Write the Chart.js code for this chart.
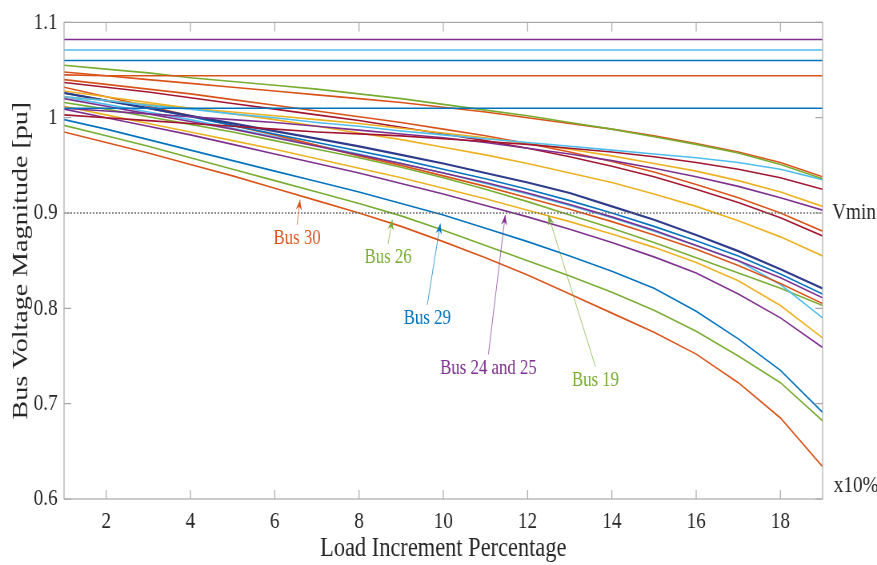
<!DOCTYPE html>
<html>
<head>
<meta charset="utf-8">
<script src="https://cdn.jsdelivr.net/npm/chart.js@4/dist/chart.umd.min.js"></script>
<style>
  html, body { margin: 0; padding: 0; background: #fff; }
</style>
</head>
<body>
<!-- drawn 1096 wide and shown at 877 so the serif text comes out condensed -->
<canvas id="chart" width="1096" height="565" style="width:877px;height:565px"></canvas>
<script>
// load steps (x10 %)
const LOAD_STEPS = [1, 2, 3, 4, 5, 6, 7, 8, 9, 10, 11, 12, 13, 14, 15, 16, 17, 18, 19];
const X_TICKS = [2, 4, 6, 8, 10, 12, 14, 16, 18];
const Y_TICKS = [0.6, 0.7, 0.8, 0.9, 1.0, 1.1];
const VMIN = 0.9;

// generator buses held at fixed voltage
const gen1 = [1.082, 1.082, 1.082, 1.082, 1.082, 1.082, 1.082, 1.082, 1.082, 1.082, 1.082, 1.082, 1.082, 1.082, 1.082, 1.082, 1.082, 1.082, 1.082];
const gen2 = [1.071, 1.071, 1.071, 1.071, 1.071, 1.071, 1.071, 1.071, 1.071, 1.071, 1.071, 1.071, 1.071, 1.071, 1.071, 1.071, 1.071, 1.071, 1.071];
const gen3 = [1.060, 1.060, 1.060, 1.060, 1.060, 1.060, 1.060, 1.060, 1.060, 1.060, 1.060, 1.060, 1.060, 1.060, 1.060, 1.060, 1.060, 1.060, 1.060];
const gen4 = [1.045, 1.044, 1.044, 1.044, 1.044, 1.044, 1.044, 1.044, 1.044, 1.044, 1.044, 1.044, 1.044, 1.044, 1.044, 1.044, 1.044, 1.044, 1.044];
const gen5 = [1.010, 1.010, 1.010, 1.010, 1.010, 1.010, 1.010, 1.010, 1.010, 1.010, 1.010, 1.010, 1.010, 1.010, 1.010, 1.010, 1.010, 1.010, 1.010];

// load buses
const curveA = [1.055, 1.051, 1.047, 1.042, 1.038, 1.034, 1.030, 1.025, 1.020, 1.014, 1.008, 1.002, 0.995, 0.988, 0.980, 0.972, 0.963, 0.951, 0.936];
const curveB = [1.048, 1.044, 1.040, 1.036, 1.032, 1.028, 1.024, 1.020, 1.016, 1.011, 1.006, 1.000, 0.994, 0.988, 0.981, 0.973, 0.964, 0.953, 0.938];
const curveC = [1.022, 1.018, 1.013, 1.009, 1.004, 1.000, 0.995, 0.991, 0.986, 0.982, 0.978, 0.974, 0.970, 0.966, 0.962, 0.958, 0.953, 0.946, 0.935];
const curveD = [1.003, 1.000, 0.997, 0.994, 0.991, 0.988, 0.985, 0.983, 0.981, 0.978, 0.975, 0.972, 0.968, 0.964, 0.959, 0.953, 0.946, 0.937, 0.925];
const curveE = [1.022, 1.018, 1.014, 1.010, 1.006, 1.002, 0.998, 0.994, 0.989, 0.984, 0.979, 0.973, 0.967, 0.960, 0.952, 0.944, 0.934, 0.922, 0.907];
const curveF = [1.010, 1.007, 1.004, 1.001, 0.998, 0.995, 0.991, 0.987, 0.983, 0.979, 0.974, 0.968, 0.962, 0.955, 0.947, 0.938, 0.928, 0.916, 0.903];
const curveG = [1.040, 1.035, 1.030, 1.025, 1.019, 1.013, 1.007, 1.001, 0.995, 0.988, 0.981, 0.973, 0.964, 0.954, 0.943, 0.930, 0.916, 0.900, 0.881];
const curveH = [1.037, 1.032, 1.027, 1.021, 1.015, 1.009, 1.003, 0.997, 0.990, 0.983, 0.976, 0.968, 0.959, 0.949, 0.938, 0.925, 0.911, 0.895, 0.876];
const curveI = [1.028, 1.022, 1.016, 1.010, 1.004, 0.998, 0.991, 0.984, 0.977, 0.969, 0.961, 0.952, 0.942, 0.932, 0.920, 0.907, 0.892, 0.875, 0.855];
const curveJ = [1.026, 1.018, 1.010, 1.002, 0.994, 0.986, 0.978, 0.970, 0.961, 0.952, 0.942, 0.932, 0.921, 0.907, 0.893, 0.877, 0.860, 0.841, 0.821];
const curveK = [1.026, 1.018, 1.010, 1.001, 0.992, 0.983, 0.974, 0.965, 0.956, 0.946, 0.936, 0.925, 0.913, 0.900, 0.886, 0.871, 0.855, 0.836, 0.815];
const curveL = [1.020, 1.012, 1.004, 0.996, 0.988, 0.979, 0.970, 0.961, 0.952, 0.942, 0.932, 0.921, 0.909, 0.896, 0.882, 0.866, 0.850, 0.832, 0.811];
const curveM = [1.032, 1.022, 1.012, 1.002, 0.992, 0.982, 0.971, 0.960, 0.950, 0.939, 0.928, 0.916, 0.904, 0.891, 0.877, 0.862, 0.845, 0.826, 0.805];
const curveO = [1.022, 1.014, 1.006, 0.998, 0.989, 0.980, 0.971, 0.962, 0.952, 0.942, 0.931, 0.920, 0.908, 0.895, 0.881, 0.866, 0.850, 0.825, 0.790];
const curveP = [1.012, 1.003, 0.994, 0.985, 0.976, 0.967, 0.957, 0.947, 0.937, 0.926, 0.915, 0.903, 0.891, 0.878, 0.864, 0.848, 0.829, 0.803, 0.769];
const bus19 = [1.016, 1.009, 1.001, 0.993, 0.985, 0.976, 0.967, 0.958, 0.948, 0.937, 0.925, 0.912, 0.898, 0.884, 0.869, 0.853, 0.837, 0.821, 0.803];
const bus24_25 = [1.009, 1.000, 0.991, 0.982, 0.972, 0.962, 0.952, 0.942, 0.931, 0.920, 0.908, 0.896, 0.883, 0.869, 0.854, 0.837, 0.815, 0.790, 0.759];
const bus29 = [0.998, 0.988, 0.977, 0.966, 0.955, 0.944, 0.933, 0.922, 0.910, 0.898, 0.884, 0.870, 0.855, 0.839, 0.821, 0.797, 0.768, 0.735, 0.691];
const bus26 = [0.992, 0.981, 0.970, 0.958, 0.946, 0.934, 0.922, 0.910, 0.897, 0.882, 0.866, 0.850, 0.834, 0.817, 0.798, 0.776, 0.750, 0.722, 0.682];
const bus30 = [0.985, 0.974, 0.963, 0.951, 0.939, 0.926, 0.913, 0.900, 0.886, 0.870, 0.853, 0.835, 0.815, 0.795, 0.775, 0.752, 0.722, 0.685, 0.634];

// callouts for the buses that cross Vmin first
const BUS_LABELS = ['Bus 30', 'Bus 26', 'Bus 29', 'Bus 24 and 25', 'Bus 19'];
const LABEL_X = [6.53, 8.69, 9.62, 11.07, 13.61];
const LABEL_Y = [0.873, 0.853, 0.789, 0.737, 0.724];
const TIP_X = [6.6, 8.79, 9.93, 11.47, 12.49];
const TIP_Y = [0.914, 0.893, 0.889, 0.898, 0.898];

const C = {
  blue: '#0072BD', orange: '#D95319', yellow: '#EDB120', purple: '#7E2F8E',
  green: '#77AC30', lightBlue: '#4DBEEE', darkRed: '#A2142F', navy: '#2E3B8A'
};
const LABEL_COLORS = [C.orange, C.green, C.blue, C.purple, C.green];
const TEXT = '#262626';
const AXIS = '#a8a8a8';
const SERIF = '"Liberation Serif", "Times New Roman", serif';

const lines = [
  [gen1, C.purple], [gen2, C.lightBlue], [gen3, C.blue], [gen4, C.orange], [gen5, C.blue],
  [curveA, C.green], [curveB, C.orange], [curveC, C.lightBlue], [curveD, C.darkRed],
  [curveE, C.yellow], [curveF, C.purple], [curveG, C.orange], [curveH, C.darkRed],
  [curveI, C.yellow], [curveJ, C.navy], [curveK, C.blue], [curveL, C.purple],
  [curveM, C.orange], [curveO, C.lightBlue], [curveP, C.yellow], [bus19, C.green],
  [bus24_25, C.purple], [bus29, C.blue], [bus26, C.green], [bus30, C.orange]
];

const datasets = lines.map(([vals, color]) => ({
  data: LOAD_STEPS.map((x, i) => ({ x: x, y: vals[i] })),
  borderColor: color,
  borderWidth: color === C.navy ? 2.2 : 1.6,
  pointRadius: 0,
  tension: 0,
  fill: false
}));

datasets.push({
  data: [{ x: LOAD_STEPS[0], y: VMIN }, { x: LOAD_STEPS[LOAD_STEPS.length - 1], y: VMIN }],
  borderColor: '#6a6a6a',
  borderWidth: 1.5,
  borderDash: [2, 2],
  pointRadius: 0,
  order: -1
});

// box, inward ticks, side texts and the bus callouts
const decorations = {
  id: 'decorations',
  afterDatasetsDraw(chart) {
    const { ctx, chartArea: a, scales: { x, y } } = chart;
    ctx.save();
    ctx.strokeStyle = AXIS;
    ctx.lineWidth = 1.2;
    ctx.strokeRect(a.left, a.top, a.right - a.left, a.bottom - a.top);
    ctx.beginPath();
    X_TICKS.forEach(v => {
      const px = x.getPixelForValue(v);
      ctx.moveTo(px, a.bottom); ctx.lineTo(px, a.bottom - 9);
      ctx.moveTo(px, a.top); ctx.lineTo(px, a.top + 9);
    });
    Y_TICKS.forEach(v => {
      const py = y.getPixelForValue(v);
      ctx.moveTo(a.left, py); ctx.lineTo(a.left + 9, py);
      ctx.moveTo(a.right, py); ctx.lineTo(a.right - 9, py);
    });
    ctx.stroke();

    ctx.fillStyle = TEXT;
    ctx.font = '24px ' + SERIF;
    ctx.textAlign = 'left';
    ctx.textBaseline = 'middle';
    ctx.fillText('Vmin', a.right + 12, y.getPixelForValue(VMIN));
    ctx.fillText('x10%', a.right + 14, a.bottom - 13);

    BUS_LABELS.forEach((text, i) => {
      const lx = x.getPixelForValue(LABEL_X[i]);
      const ly = y.getPixelForValue(LABEL_Y[i]);
      const tx = x.getPixelForValue(TIP_X[i]);
      const ty = y.getPixelForValue(TIP_Y[i]);
      const sx = lx, sy = ly - 14;
      const ang = Math.atan2(ty - sy, tx - sx);
      ctx.strokeStyle = LABEL_COLORS[i];
      ctx.fillStyle = LABEL_COLORS[i];
      ctx.globalAlpha = 0.7;
      ctx.lineWidth = 1;
      ctx.beginPath();
      ctx.moveTo(sx, sy);
      ctx.lineTo(tx, ty);
      ctx.stroke();
      ctx.globalAlpha = 1;
      ctx.beginPath();
      ctx.moveTo(tx, ty);
      ctx.lineTo(tx - 11 * Math.cos(ang - 0.35), ty - 11 * Math.sin(ang - 0.35));
      ctx.lineTo(tx - 7 * Math.cos(ang), ty - 7 * Math.sin(ang));
      ctx.lineTo(tx - 11 * Math.cos(ang + 0.35), ty - 11 * Math.sin(ang + 0.35));
      ctx.closePath();
      ctx.fill();
      ctx.font = '21px ' + SERIF;
      ctx.textAlign = 'center';
      ctx.textBaseline = 'middle';
      ctx.fillText(text, lx, ly);
    });
    ctx.restore();
  }
};

new Chart(document.getElementById('chart'), {
  type: 'line',
  data: { datasets: datasets },
  options: {
    responsive: false,
    animation: false,
    devicePixelRatio: 1,
    layout: { padding: { left: 0, right: 68, top: 20, bottom: 0 } },
    plugins: { legend: { display: false }, tooltip: { enabled: false } },
    scales: {
      x: {
        type: 'linear',
        min: 1,
        max: 19,
        grid: { display: false, drawTicks: false },
        border: { display: false },
        afterBuildTicks: s => { s.ticks = X_TICKS.map(v => ({ value: v })); },
        afterFit: s => { s.height = 66; },
        ticks: { color: TEXT, font: { family: SERIF, size: 24 }, padding: 8, maxRotation: 0, autoSkip: false },
        title: {
          display: true, text: 'Load Increment Percentage', color: TEXT,
          font: { family: SERIF, size: 28 }, padding: { top: 0, bottom: 0 }
        }
      },
      y: {
        min: 0.6,
        max: 1.1,
        grid: { display: false, drawTicks: false },
        border: { display: false },
        afterBuildTicks: s => { s.ticks = Y_TICKS.map(v => ({ value: v })); },
        afterFit: s => { s.width = 80; },
        ticks: {
          color: TEXT, font: { family: SERIF, size: 24 }, padding: 8,
          callback: v => String(+v.toFixed(1))
        },
        title: {
          display: true, text: 'Bus Voltage Magnitude [pu]', color: TEXT,
          font: { family: SERIF, size: 28 }, padding: { top: 10, bottom: 0 }
        }
      }
    }
  },
  plugins: [decorations]
});
</script>
</body>
</html>
